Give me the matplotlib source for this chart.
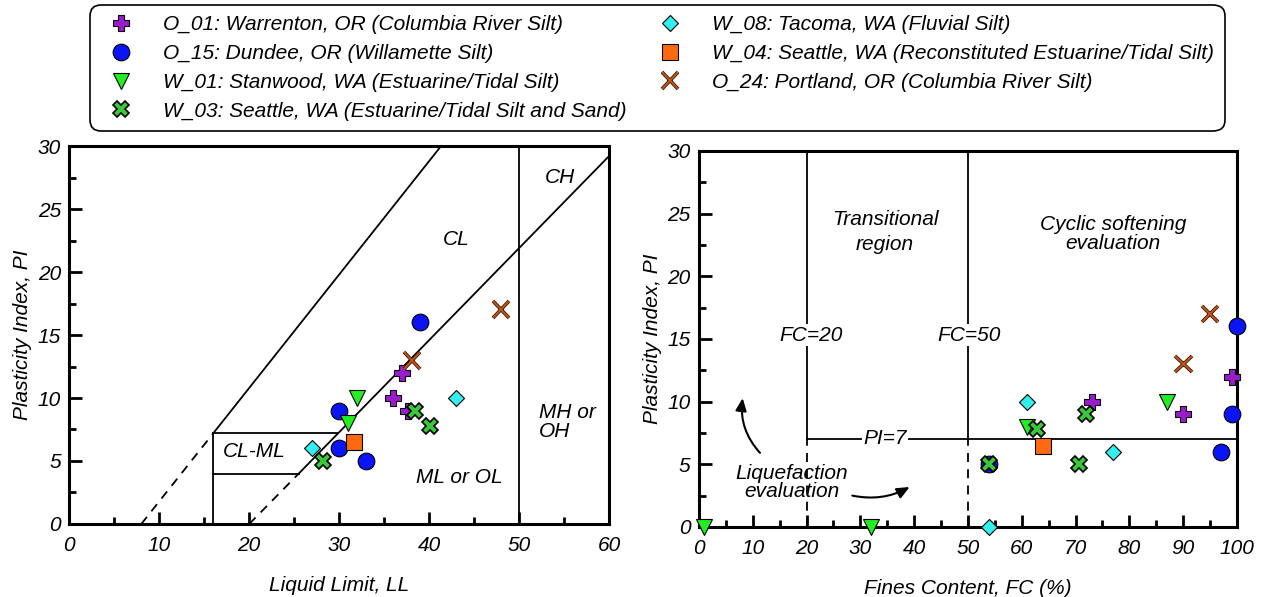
import matplotlib
matplotlib.use("Agg")
import matplotlib.pyplot as plt
import matplotlib.patheffects as pe
from matplotlib.patches import FancyArrowPatch
from matplotlib.ticker import MultipleLocator

plt.rcParams["font.family"] = ["Liberation Sans", "DejaVu Sans"]
plt.rcParams["font.style"] = "italic"
plt.rcParams["font.size"] = 15

# site labels (legend order)
labels = [
    "O_01: Warrenton, OR (Columbia River Silt)",
    "O_15: Dundee, OR (Willamette Silt)",
    "W_01: Stanwood, WA (Estuarine/Tidal Silt)",
    "W_03: Seattle, WA (Estuarine/Tidal Silt and Sand)",
    "W_08: Tacoma, WA (Fluvial Silt)",
    "W_04: Seattle, WA (Reconstituted Estuarine/Tidal Silt)",
    "O_24: Portland, OR (Columbia River Silt)",
]

# left chart: liquid limit vs plasticity index
o01_ll = [37, 36, 37.7]
o01_pi = [12, 10, 9]
o15_ll = [39, 30, 30, 33]
o15_pi = [16, 9, 6, 5]
w01_ll = [32, 31]
w01_pi = [10, 8]
w03_ll = [28.2, 38.4, 40.1]
w03_pi = [5, 9, 7.8]
w08_ll = [27, 43]
w08_pi = [6, 10]
w04_ll = [31.6]
w04_pi = [6.5]
o24_ll = [48, 38.1]
o24_pi = [17, 13]

# right chart: fines content vs plasticity index
o01_fc = [73, 90, 99]
o01_pi_fc = [10, 9, 12]
o15_fc = [100, 99, 97, 54]
o15_pi_fc = [16, 9, 6, 5]
w01_fc = [1, 32, 87, 61]
w01_pi_fc = [0, 0, 10, 8]
w03_fc = [54, 62.8, 72, 70.6]
w03_pi_fc = [5, 7.8, 9, 5]
w08_fc = [61, 77, 54]
w08_pi_fc = [10, 6, 0]
w04_fc = [64]
w04_pi_fc = [6.5]
o24_fc = [95, 90]
o24_pi_fc = [17, 13]

styles = {
    "o01": dict(marker="P", ms=12, mfc="#9a1ccc", mec="k", mew=0.8),
    "o15": dict(marker="o", ms=12, mfc="#0a14f5", mec="k", mew=0.8),
    "w01": dict(marker="v", ms=12, mfc="#22ee22", mec="k", mew=0.8),
    "w03": dict(marker="X", ms=12, mfc="#3cc83c", mec="k", mew=1.2),
    "w08": dict(marker="D", ms=8, mfc="#33f0f0", mec="k", mew=0.8),
    "w04": dict(marker="s", ms=12, mfc="#ff6a10", mec="k", mew=0.8),
    "o24": dict(marker="x", ms=12, color="#c0561a", mew=1.4,
                path_effects=[pe.withStroke(linewidth=2.6, foreground="#3a1a08")]),
}


def draw_points(ax, series):
    handles = {}
    for key, xs, ys in series:
        h, = ax.plot(xs, ys, ls="none", clip_on=False, zorder=5, **styles[key])
        handles[key] = h
    return handles


def style_axes(ax, xmax, xmajor):
    ax.set_xlim(0, xmax)
    ax.set_ylim(0, 30)
    ax.xaxis.set_major_locator(MultipleLocator(xmajor))
    ax.xaxis.set_minor_locator(MultipleLocator(xmajor / 2))
    ax.yaxis.set_major_locator(MultipleLocator(5))
    ax.yaxis.set_minor_locator(MultipleLocator(2.5))
    ax.tick_params(which="both", direction="in", top=False, right=False, width=2)
    ax.tick_params(which="major", length=9)
    ax.tick_params(which="minor", length=5)
    ax.tick_params(axis="y", pad=6)
    ax.tick_params(axis="x", pad=8.5)
    for s in ax.spines.values():
        s.set_linewidth(2.2)


fig = plt.figure(figsize=(12.63, 5.97), dpi=100)
ax1 = fig.add_axes([0.0549, 0.1223, 0.4273, 0.6331])
ax2 = fig.add_axes([0.5534, 0.1173, 0.4260, 0.6298])

# ---- left: plasticity chart
lw = 1.3
ax1.plot([8, 16], [0, 7.2], "k", lw=lw, ls=(0, (5, 4)))
ax1.plot([16, 41.33], [7.2, 30], "k", lw=lw)
ax1.plot([20, 25.5], [0, 4], "k", lw=lw, ls=(0, (5, 4)))
ax1.plot([25.5, 60], [4, 29.2], "k", lw=lw)
ax1.plot([16, 16], [0, 7.2], "k", lw=lw)
ax1.plot([16, 29.9], [7.2, 7.2], "k", lw=lw)
ax1.plot([16, 25.5], [4, 4], "k", lw=lw)
ax1.plot([50, 50], [0, 30], "k", lw=lw)

ax1.text(20.6, 5.75, "CL-ML", ha="center", va="center")
ax1.text(43.0, 22.6, "CL", ha="center", va="center")
ax1.text(54.5, 27.5, "CH", ha="center", va="center")
ax1.text(43.4, 3.7, "ML or OL", ha="center", va="center")
ax1.text(52.2, 8.1, "MH or\nOH", ha="left", va="center", linespacing=1.05)

h = draw_points(ax1, [
    ("o01", o01_ll, o01_pi), ("o15", o15_ll, o15_pi), ("w01", w01_ll, w01_pi),
    ("w08", w08_ll, w08_pi), ("w03", w03_ll, w03_pi), ("w04", w04_ll, w04_pi),
    ("o24", o24_ll, o24_pi),
])
style_axes(ax1, 60, 10)
ax1.set_xlabel("Liquid Limit, LL", labelpad=15)
ax1.set_ylabel("Plasticity Index, PI", labelpad=4)

# ---- right: fines content chart
ax2.plot([20, 20], [7, 30], "k", lw=lw)
ax2.plot([20, 20], [0, 7], "k", lw=lw, ls=(0, (5, 4)))
ax2.plot([50, 50], [7, 30], "k", lw=lw)
ax2.plot([50, 50], [0, 7], "k", lw=lw, ls=(0, (5, 4)))
ax2.plot([20, 100], [7, 7], "k", lw=lw)

box = dict(facecolor="white", edgecolor="none", pad=1)
ax2.text(20.8, 15.3, "FC=20", ha="center", va="center", bbox=box)
ax2.text(50.2, 15.3, "FC=50", ha="center", va="center", bbox=box)
ax2.text(34.6, 7.05, "PI=7", ha="center", va="center", bbox=box)
ax2.text(34.6, 24.1, "Transitional", ha="center", va="baseline")
ax2.text(34.6, 22.07, "region", ha="center", va="baseline")
ax2.text(77, 23.7, "Cyclic softening", ha="center", va="baseline")
ax2.text(77, 22.2, "evaluation", ha="center", va="baseline")
ax2.text(17.3, 3.86, "Liquefaction", ha="center", va="baseline")
ax2.text(17.3, 2.4, "evaluation", ha="center", va="baseline")

for start, end, rad in [((11.7, 5.75), (8.2, 10.5), -0.25),
                        ((28, 2.55), (39.6, 3.3), 0.2)]:
    ax2.add_patch(FancyArrowPatch(start, end, connectionstyle=f"arc3,rad={rad}",
                                  arrowstyle="-|>,head_length=0.5,head_width=0.22",
                                  mutation_scale=15, lw=1.5, color="k"))

draw_points(ax2, [
    ("o01", o01_fc, o01_pi_fc), ("o15", o15_fc, o15_pi_fc), ("w01", w01_fc, w01_pi_fc),
    ("w08", w08_fc, w08_pi_fc), ("w03", w03_fc, w03_pi_fc), ("w04", w04_fc, w04_pi_fc),
    ("o24", o24_fc, o24_pi_fc),
])
style_axes(ax2, 100, 10)
ax2.set_xlabel("Fines Content, FC (%)", labelpad=15)
ax2.set_ylabel("Plasticity Index, PI", labelpad=4)

order = ["o01", "o15", "w01", "w03", "w08", "w04", "o24"]
leg = fig.legend([h[k] for k in order], labels, ncol=2, loc="upper left",
                 bbox_to_anchor=(90 / 1263, 1 - 5 / 597), borderaxespad=0,
                 fontsize=15, frameon=True, fancybox=True, edgecolor="k",
                 framealpha=1, handlelength=1.98, handletextpad=1.04,
                 columnspacing=1.07, labelspacing=0.47, borderpad=0.5)
leg.get_frame().set_linewidth(1.2)
leg.get_frame().set_boxstyle("round,pad=0,rounding_size=0.55")

fig.savefig("out.png", dpi=100)
